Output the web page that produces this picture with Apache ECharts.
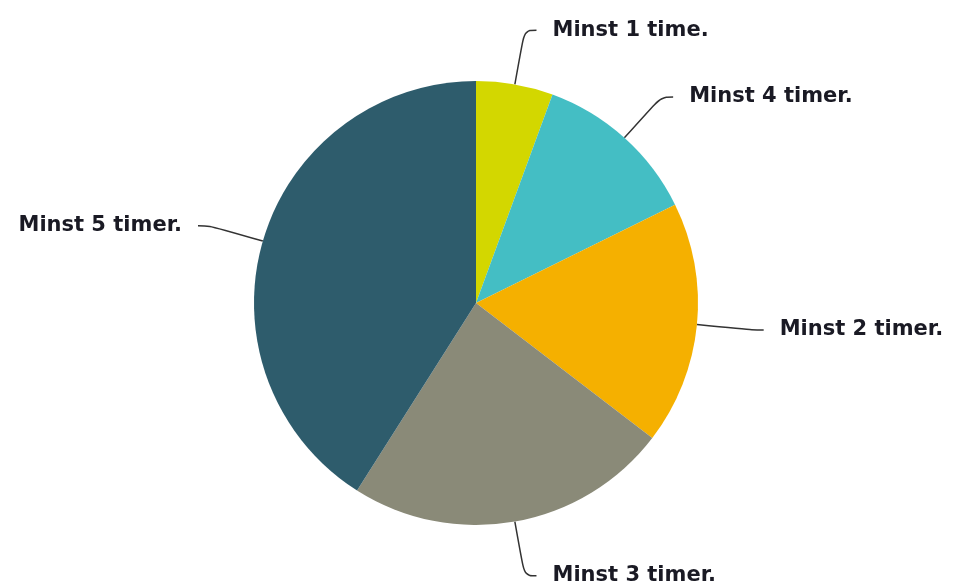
<!DOCTYPE html>
<html>
<head>
<meta charset="utf-8">
<script src="https://cdn.jsdelivr.net/npm/echarts@6/dist/echarts.min.js"></script>
<style>html,body{margin:0;padding:0;background:#fff;}#chart{width:954px;height:588px;}</style>
</head>
<body>
<div id="chart"></div>
<script>
const categories = ['Minst 1 time.', 'Minst 4 timer.', 'Minst 2 timer.', 'Minst 3 timer.', 'Minst 5 timer.'];
const values = [5.6, 12.1, 17.7, 23.6, 41.0];
const colors = ['#d3d700', '#44bec4', '#f5b000', '#8a8a78', '#2e5c6c'];

const chart = echarts.init(document.getElementById('chart'));
chart.setOption({
  animation: false,
  backgroundColor: '#ffffff',
  series: [{
    type: 'pie',
    center: [476, 303],
    radius: 222,
    startAngle: 90,
    clockwise: true,
    data: categories.map((c, i) => ({ name: c, value: values[i], itemStyle: { color: colors[i] } })),
    itemStyle: { borderWidth: 0 },
    label: {
      show: true,
      formatter: '{b}',
      fontFamily: 'DejaVu Sans',
      fontWeight: 'bold',
      fontSize: 21,
      color: '#1a1a24',
      distanceToLabelLine: 16
    },
    labelLine: {
      show: true,
      length: 55,
      length2: 12,
      smooth: 0.4,
      lineStyle: { color: '#333', width: 1.5 }
    },
    emphasis: { disabled: true }
  }]
});
</script>
</body>
</html>
